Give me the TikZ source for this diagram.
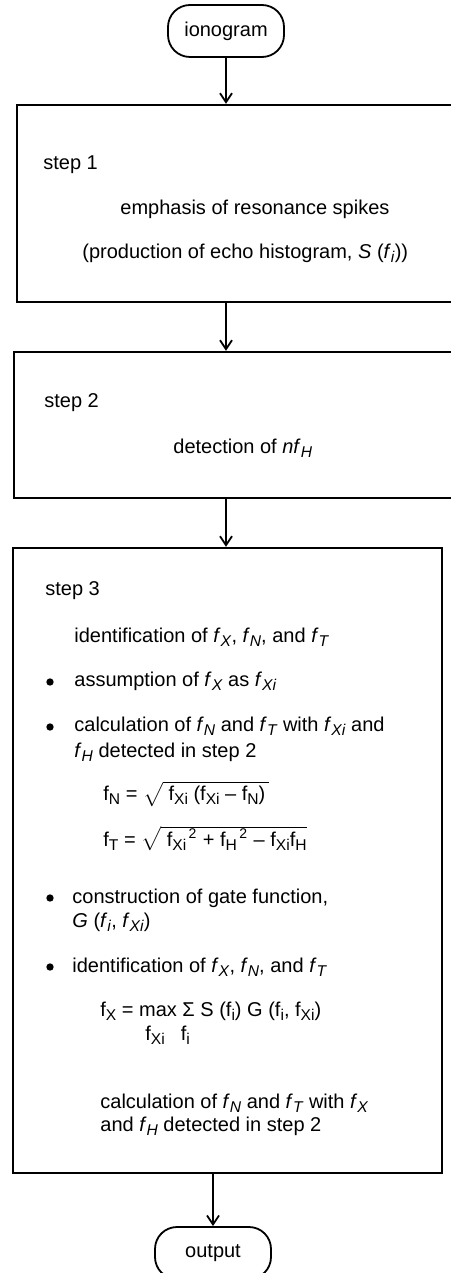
\documentclass[tikz,border=0pt]{standalone}
\usepackage{fontspec}
\setmainfont{Liberation Sans}
\usetikzlibrary{positioning,arrows.meta}
\newcommand{\lowsub}[1]{\raisebox{-0.45ex}{\fontsize{7.8}{8}\selectfont #1}}
\newcommand{\fsym}[1]{\textit{f}\lowsub{\textit{#1}}}
\newcommand{\fup}[1]{f\lowsub{#1}}
\begin{document}
\begin{tikzpicture}[x=0.5pt, y=-0.5pt,
    every node/.style={font=\fontsize{10}{12}\selectfont},
    term/.style={draw, line width=0.9pt, rounded corners=11pt, minimum width=58pt, minimum height=26pt, inner sep=0pt},
    stepbox/.style={draw, line width=1.2pt, inner sep=0pt},
    txt/.style={anchor=base west, inner sep=0pt},
    dot/.style={circle, fill, inner sep=1.3pt},
    flow/.style={-{Straight Barb[length=4.5pt,width=6pt]}, line width=0.9pt}]
    \useasboundingbox (0,0) rectangle (450,1273);

    % Terminals
    \node[term] (ion) at (226,31) {ionogram};
    \node[term] (out) at (213,1253) {output};

    % Step boxes
    \node[stepbox, minimum width=221.5pt, minimum height=98.5pt] (s1) at (238.5,203.5) {};
    \node[stepbox, minimum width=223pt, minimum height=73pt] (s2) at (237,425) {};
    \node[stepbox, minimum width=214.5pt, minimum height=312.5pt] (s3) at (227.5,860.5) {};

    % Connectors
    \draw[flow] (ion.south) -- (ion.south |- s1.north);
    \draw[flow] (s1.south -| ion) -- (s2.north -| ion);
    \draw[flow] (s2.south -| ion) -- (s3.north -| ion);
    \draw[flow] (s3.south -| out) -- (out.north);

    % Step 1
    \node[txt] (a1) at (43,170) {step 1};
    \node[txt] (a2) at (120,215) {emphasis of resonance spikes};
    \node[txt] (a3) at (82,258) {(production of echo histogram, \textit{S} (\fsym{i}))};

    % Step 2
    \node[txt] (b1) at (44,407) {step 2};
    \node[txt] (b2) at (173,453) {detection of \textit{nf}\lowsub{\textit{H}}};

    % Step 3
    \node[txt] (c1) at (45,595) {step 3};
    \node[txt] (c2) at (74,642) {identification of \fsym{X}, \fsym{N}, and \fsym{T}};
    \node[dot] (d1) at (50,682) {};
    \node[txt] (c3) at (74,686) {assumption of \fsym{X} as \fsym{Xi}};
    \node[dot] (d2) at (50,727) {};
    \node[txt] (c4) at (74,731) {calculation of \fsym{N} and \fsym{T} with \fsym{Xi} and};
    \node[txt] (c5) at (74,757) {\fsym{H} detected in step 2};
    \node[txt] (e1) at (103,800) {\fup{N} = $\sqrt{\mbox{\ \fup{Xi} (\fup{Xi} -- \fup{N})\,}}$};
    \node[txt] (e2) at (103,846) {\fup{T} = $\sqrt{\mbox{\ \fup{Xi}\textsuperscript{\,2}\ + \fup{H}\textsuperscript{\,2}\ -- \fup{Xi}\fup{H}}}$};
    \node[dot] (d3) at (50,898) {};
    \node[txt] (c6) at (72,903) {construction of gate function,};
    \node[txt] (c7) at (72,927) {\textit{G} (\fsym{i}, \fsym{Xi})};
    \node[dot] (d4) at (50,967) {};
    \node[txt] (c8) at (72,972) {identification of \fsym{X}, \fsym{N}, and \fsym{T}};
    \node[txt] (e3) at (100,1016) {\fup{X} = max Σ S (\fup{i}) G (\fup{i}, \fup{Xi})};
    \node[txt] (e4) at (145,1040) {\fup{Xi}\hspace{8pt}\fup{i}};
    \node[txt] (c9) at (100,1108) {calculation of \fsym{N} and \fsym{T} with \fsym{X}};
    \node[txt] (c10) at (100,1131) {and \fsym{H} detected in step 2};

\end{tikzpicture}
\end{document}
